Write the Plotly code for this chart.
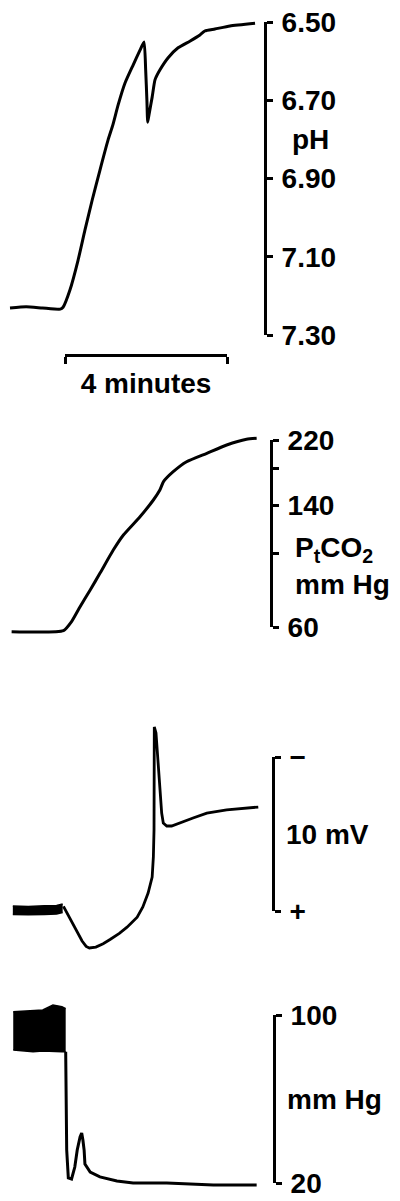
import math
import plotly.graph_objects as go

W, H = 400, 1201
FONT = "Liberation Sans, Arial, sans-serif"

# ---- data (time in minutes) ----
ph_time = [0.00, 0.40, 0.80, 1.24, 1.31, 1.48, 1.68, 1.85, 2.03, 2.22, 2.42, 2.54, 2.67, 2.84, 3.04, 3.21,
           3.31, 3.35, 3.38, 3.40, 3.43, 3.51, 3.58, 3.70, 3.90, 4.15, 4.44, 4.69, 4.81, 5.06, 5.43, 6.05]
ph_value = [7.231, 7.228, 7.231, 7.234, 7.229, 7.185, 7.109, 7.032, 6.955, 6.879, 6.802, 6.763, 6.712, 6.656,
            6.610, 6.572, 6.551, 6.623, 6.699, 6.756, 6.738, 6.692, 6.648, 6.623, 6.592, 6.566, 6.549, 6.533,
            6.523, 6.518, 6.510, 6.503]
ph_ticks = [6.50, 6.70, 6.90, 7.10, 7.30]

co2_time = [0.04, 1.32, 1.52, 1.73, 1.98, 2.22, 2.55, 2.80, 3.21, 3.54, 3.70, 3.79, 4.03, 4.36, 4.86, 5.35, 5.84, 6.09]
co2_value = [58.1, 58.5, 62.3, 69.1, 77.6, 87.1, 102.4, 113.7, 129.1, 145.0, 155.4, 164.7, 176.5, 189.2, 200.6,
             212.5, 221.1, 222.6]
co2_ticks = [60, 100, 140, 180, 220]
co2_labels = ["60", "", "140", "", "220"]

mv_noise_time = [0.07, 0.45, 0.85, 1.15, 1.30]
mv_noise_upper = [0.32, 0.30, 0.34, 0.36, 0.45]
mv_noise_lower = [-0.22, -0.25, -0.22, -0.20, -0.10]
mv_time = [1.32, 1.48, 1.63, 1.78, 1.88, 1.96, 2.12, 2.30, 2.47, 2.70, 2.89, 3.14, 3.28, 3.41, 3.51, 3.54,
           3.556, 3.563, 3.605, 3.686, 3.745, 3.785, 3.87, 3.99, 4.20, 4.52, 4.86, 5.35, 6.13]
mv_value = [0.30, -0.45, -1.23, -1.95, -2.30, -2.40, -2.34, -2.12, -1.85, -1.45, -1.05, -0.40, 0.26, 1.17,
            2.21, 3.51, 5.26, 11.95, 11.56, 8.51, 6.36, 5.71, 5.52, 5.52, 5.71, 6.04, 6.36, 6.56, 6.75]
mv_ticks = [0, 10]
mv_labels = ["+", "\u2212"]

bp_pulse_time = [0.08, 0.57, 0.81, 1.06, 1.28, 1.375]
bp_pulse_top = [101.6, 101.9, 102.4, 104.8, 104.0, 103.0]
bp_pulse_bottom = [83.3, 82.5, 82.8, 82.5, 82.5, 82.5]
bp_time = [1.375, 1.40, 1.44, 1.52, 1.60, 1.66, 1.73, 1.77, 1.80, 1.83, 1.85, 1.98, 2.22, 2.64, 3.04, 3.87,
           5.02, 6.09]
bp_value = [82.5, 35.7, 22.4, 21.9, 27.6, 35.7, 41.9, 43.8, 40.5, 35.7, 29.0, 25.2, 22.9, 21.0, 20.0, 20.0,
            19.0, 19.0]
bp_ticks = [20, 100]

SCALE_BAR_MIN = 4

# ---- page geometry (pixels) ----
PX_PER_MIN = 40.5
X0 = 10  # pixel of t = 0
# scale axis: line x, (value, px) at top and bottom tick, panel extent for the data
panels = [
    dict(line_x=265, top=(6.50, 22), bottom=(7.30, 335), extent=(0, 350), log=False),
    dict(line_x=271, top=(220, 440), bottom=(60, 627), extent=(420, 650), log=True),
    dict(line_x=273, top=(10, 757), bottom=(0, 911), extent=(700, 960), log=False),
    dict(line_x=274, top=(100, 1015), bottom=(20, 1183), extent=(990, 1195), log=False),
]


def fy(py):
    return 1 - py / H


def px_of_time(t):
    return X0 + t * PX_PER_MIN


def data_range(p):
    f = math.log10 if p["log"] else (lambda v: v)
    vt, pt = f(p["top"][0]), p["top"][1]
    vb, pb = f(p["bottom"][0]), p["bottom"][1]
    per = (vb - vt) / (pb - pt)
    lo, hi = p["extent"]
    return [vt + (hi - pt) * per, vt + (lo - pt) * per]


def scale_range(p):
    f = math.log10 if p["log"] else (lambda v: v)
    return [f(p["bottom"][0]), f(p["top"][0])]


line = dict(color="black", width=3)
smooth = dict(color="black", width=3, shape="spline", smoothing=0.5)
fig = go.Figure()

# pH
fig.add_trace(go.Scatter(x=ph_time, y=ph_value, mode="lines", line=smooth, xaxis="x", yaxis="y"))
# PtCO2
fig.add_trace(go.Scatter(x=co2_time, y=co2_value, mode="lines", line=smooth, xaxis="x", yaxis="y3"))
# mV: noisy baseline band then the potential
fig.add_trace(go.Scatter(x=mv_noise_time, y=mv_noise_lower, mode="lines", line=dict(color="black", width=1.5),
                         xaxis="x", yaxis="y5"))
fig.add_trace(go.Scatter(x=mv_noise_time, y=mv_noise_upper, mode="lines", line=dict(color="black", width=1.5),
                         fill="tonexty", fillcolor="black", xaxis="x", yaxis="y5"))
fig.add_trace(go.Scatter(x=mv_time, y=mv_value, mode="lines", line=dict(color="black", width=2.8),
                         xaxis="x", yaxis="y5"))
# arterial pressure: pulsatile block then the trace
fig.add_trace(go.Scatter(x=bp_pulse_time, y=bp_pulse_bottom, mode="lines", line=dict(color="black", width=1.5),
                         xaxis="x", yaxis="y7"))
fig.add_trace(go.Scatter(x=bp_pulse_time, y=bp_pulse_top, mode="lines", line=dict(color="black", width=1.5),
                         fill="tonexty", fillcolor="black", xaxis="x", yaxis="y7"))
fig.add_trace(go.Scatter(x=bp_time, y=bp_value, mode="lines", line=line, xaxis="x", yaxis="y7"))

# empty traces so the scale axes and the time bar get drawn
for k in (2, 4, 6, 8):
    fig.add_trace(go.Scatter(x=[None], y=[None], xaxis="x", yaxis="y%d" % k))
fig.add_trace(go.Scatter(x=[None], y=[None], xaxis="x2", yaxis="y"))

tick_font = dict(family=FONT, size=28, color="black", weight="bold")
axis_style = dict(showline=True, linecolor="black", linewidth=3, ticks="outside", ticklen=6, tickwidth=3,
                  tickcolor="black", showgrid=False, zeroline=False, tickfont=tick_font, fixedrange=True)

tickinfo = [
    (ph_ticks, ["%.2f" % v for v in ph_ticks]),
    (co2_ticks, co2_labels),
    (mv_ticks, mv_labels),
    (bp_ticks, [str(v) for v in bp_ticks]),
]

layout_axes = {}
for i, p in enumerate(panels):
    lo, hi = p["extent"]
    n_data, n_scale = 2 * i + 1, 2 * i + 2
    layout_axes["yaxis" if n_data == 1 else "yaxis%d" % n_data] = dict(
        domain=[fy(hi), fy(lo)], range=data_range(p), type="log" if p["log"] else "linear",
        anchor="x", visible=False, fixedrange=True)
    tv, tt = tickinfo[i]
    layout_axes["yaxis%d" % n_scale] = dict(
        domain=[fy(p["bottom"][1]), fy(p["top"][1])], range=scale_range(p),
        type="log" if p["log"] else "linear", anchor="free", position=p["line_x"] / W, side="right",
        tickvals=tv, ticktext=tt, ticklabelstandoff=3, **axis_style)

bar_start = (65 - X0) / PX_PER_MIN
fig.update_layout(
    **layout_axes,
    xaxis=dict(domain=[0, 1], range=[-X0 / PX_PER_MIN, (W - X0) / PX_PER_MIN], visible=False, fixedrange=True),
    xaxis2=dict(domain=[px_of_time(bar_start) / W, px_of_time(bar_start + SCALE_BAR_MIN) / W],
                range=[0, SCALE_BAR_MIN], tickvals=[0, SCALE_BAR_MIN], showticklabels=False,
                anchor="free", position=fy(355), side="bottom", ticklen=7,
                title=dict(text="4 minutes", font=tick_font, standoff=10),
                **{k: v for k, v in axis_style.items() if k not in ("ticklen", "tickfont")}),
    width=W, height=H, margin=dict(l=0, r=0, t=0, b=0),
    template="none", paper_bgcolor="white", plot_bgcolor="rgba(0,0,0,0)", showlegend=False,
)

ann_font = dict(family=FONT, size=28, color="black", weight="bold")
fig.add_annotation(text="pH", x=310 / W, xref="paper", xanchor="center", y=6.80, yref="y2", yanchor="middle",
                   showarrow=False, font=ann_font)
fig.add_annotation(text="P<sub>t</sub>CO<sub>2</sub>", x=293 / W, xref="paper", xanchor="left",
                   y=fy(549), yref="paper", yanchor="middle", showarrow=False, font=ann_font)
fig.add_annotation(text="mm Hg", x=293 / W, xref="paper", xanchor="left", y=fy(584), yref="paper",
                   yanchor="middle", showarrow=False, font=ann_font)
fig.add_annotation(text="10 mV", x=284 / W, xref="paper", xanchor="left", y=5, yref="y6", yanchor="middle",
                   showarrow=False, font=ann_font)
fig.add_annotation(text="mm Hg", x=285 / W, xref="paper", xanchor="left", y=60, yref="y8", yanchor="middle",
                   showarrow=False, font=ann_font)

# the page body's default 8px margin would shift the figure; drop it
fig.write_html("out.html", config={"displayModeBar": False},
               post_script="document.body.style.margin = '0';")
